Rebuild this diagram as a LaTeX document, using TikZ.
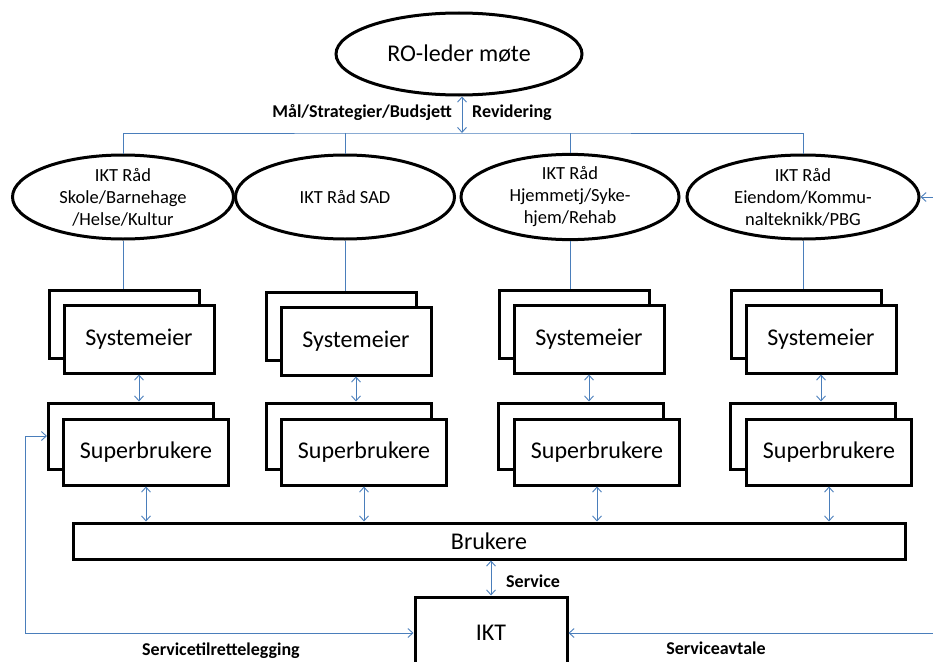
\documentclass[tikz,border=0pt]{standalone}
\usepackage{fontspec}
\setmainfont{Carlito}
\usepackage{tikz}
\usetikzlibrary{shapes.geometric,arrows.meta}
\definecolor{linkblue}{RGB}{74,126,187}
\tikzset{
  rad/.style={ellipse,draw,line width=3pt,fill=white,inner sep=0pt,align=center,font=\fontsize{18.5}{22}\selectfont},
  boks/.style={rectangle,draw,line width=3pt,fill=white,inner sep=0pt,font=\fontsize{24}{28}\selectfont},
  sysboks/.style={boks,minimum width=150pt,minimum height=68pt},
  supboks/.style={boks,minimum width=165pt,minimum height=66pt},
  link/.style={draw=linkblue,line width=0.9pt},
  pil/.style={link,-{Straight Barb[length=5pt,width=9pt]}},
  dpil/.style={link,{Straight Barb[length=5pt,width=9pt]}-{Straight Barb[length=5pt,width=9pt]}},
  etikett/.style={font=\fontsize{18}{21}\selectfont\bfseries,inner sep=0pt}
}

\begin{document}
\begin{tikzpicture}[x=1pt,y=-1pt]
\useasboundingbox (0,0) rectangle (933,661);
% top meeting
\node[rad,minimum width=246pt,minimum height=82pt,font=\fontsize{24}{28}\selectfont] (ro) at (459,54) {RO-leder møte};
\node[etikett,anchor=east] (maal) at (452,113) {Mål/Strategier/Budsjett};
\node[etikett,anchor=west] (rev) at (472,113) {Revidering};
% IKT councils
\node[rad,minimum width=221pt,minimum height=84pt] (e1) at (123,197) {IKT Råd\\Skole/Barnehage\\/Helse/Kultur};
\node[rad,minimum width=219pt,minimum height=84pt] (e2) at (345,197) {IKT Råd SAD};
\node[rad,minimum width=218pt,minimum height=84pt] (e3) at (570,197) {IKT Råd\\Hjemmetj/Syke-\\hjem/Rehab};
\node[rad,minimum width=232pt,minimum height=84pt] (e4) at (803,197) {IKT Råd\\Eiendom/Kommu-\\nalteknikk/PBG};
\coordinate (bus) at (462,133);
\draw[dpil] (ro.south -| bus) -- (bus);
\draw[link] (e1.north) |- (bus) -| (e4.north);
\draw[link] (e2.north) -- (e2.north |- bus);
\draw[link] (e3.north) -- (e3.north |- bus);
% system owners
\node[sysboks] (sysb1) at (124,324) {};
\node[sysboks] (sys1) at (139,339) {Systemeier};
\node[sysboks] (sysb2) at (341,326) {};
\node[sysboks] (sys2) at (356,341) {Systemeier};
\node[sysboks] (sysb3) at (574,324) {};
\node[sysboks] (sys3) at (589,339) {Systemeier};
\node[sysboks] (sysb4) at (806,324) {};
\node[sysboks] (sys4) at (821,339) {Systemeier};
\draw[link] (e1.south) -- (e1.south |- sysb1.north);
\draw[link] (e2.south) -- (e2.south |- sysb2.north);
\draw[link] (e3.south) -- (e3.south |- sysb3.north);
\draw[link] (e4.south) -- (e4.south |- sysb4.north);
% super users
\node[supboks] (supb1) at (131,436) {};
\node[supboks] (sup1) at (146,452) {Superbrukere};
\node[supboks] (supb2) at (349,436) {};
\node[supboks] (sup2) at (364,452) {Superbrukere};
\node[supboks] (supb3) at (581,436) {};
\node[supboks] (sup3) at (597,452) {Superbrukere};
\node[supboks] (supb4) at (813,436) {};
\node[supboks] (sup4) at (829,452) {Superbrukere};
\draw[dpil] (sys1.south) -- (sys1.south |- supb1.north);
\draw[dpil] (sys2.south) -- (sys2.south |- supb2.north);
\draw[dpil] (sys3.south) -- (sys3.south |- supb3.north);
\draw[dpil] (sys4.south) -- (sys4.south |- supb4.north);
% users and IKT
\node[boks,minimum width=832pt,minimum height=36pt] (bru) at (489,541) {Brukere};
\node[boks,minimum width=152pt,minimum height=72pt] (ikt) at (491,633) {IKT};
\draw[dpil] (sup1.south) -- (sup1.south |- bru.north);
\draw[dpil] (sup2.south) -- (sup2.south |- bru.north);
\draw[dpil] (sup3.south) -- (sup3.south |- bru.north);
\draw[dpil] (sup4.south) -- (sup4.south |- bru.north);
\draw[dpil] (ikt.north |- bru.south) -- (ikt.north);
\node[etikett,anchor=west] (serv) at (506,581) {Service};
% feedback lines
\coordinate (venstre) at (25,0);
\coordinate (hoyre) at (933,0);
\draw[dpil] (supb1.west) -- (supb1.west -| venstre) |- (ikt.west);
\draw[pil] (ikt.east -| hoyre) -- (ikt.east);
\draw[pil] (e4.east -| hoyre) -- (e4.east);
\node[etikett] (tilr) at (221,651) {Servicetilrettelegging};
\node[etikett] (avt) at (716,648) {Serviceavtale};
\end{tikzpicture}
\end{document}
